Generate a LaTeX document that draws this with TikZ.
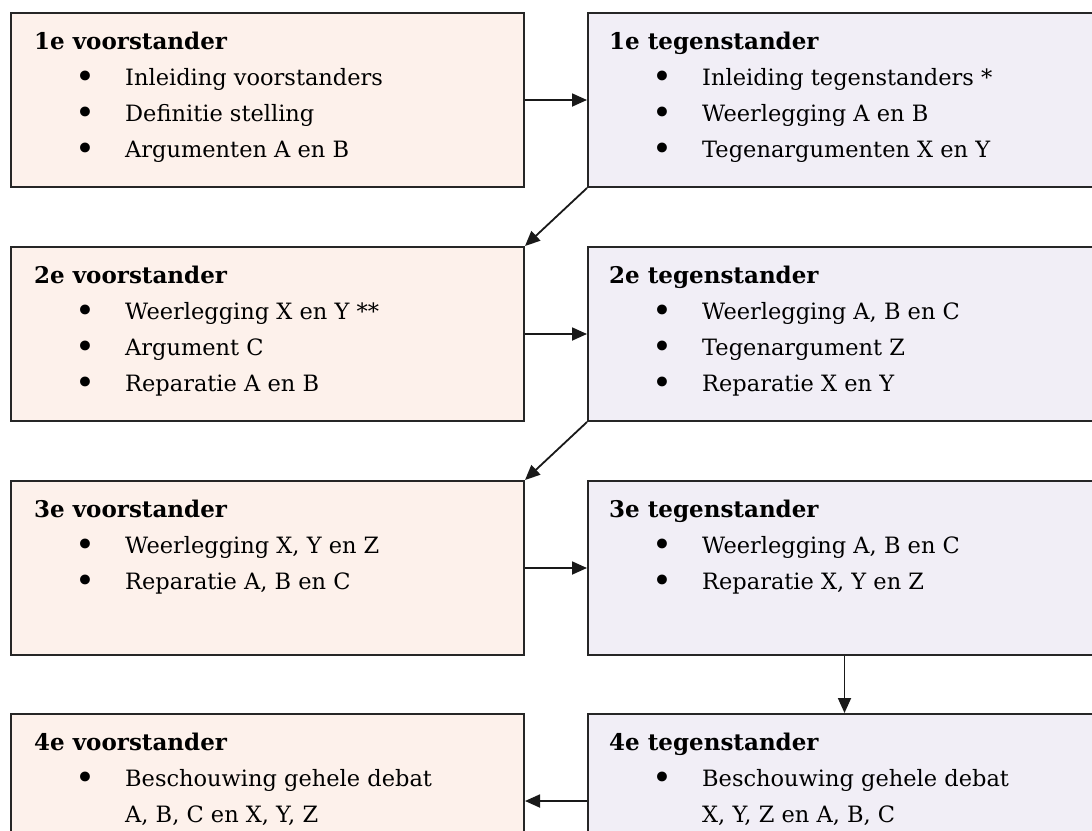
\documentclass[tikz,border=0pt]{standalone}
\usepackage{fontspec}
\setmainfont{DejaVu Serif}
\usetikzlibrary{arrows.meta}
\definecolor{proFill}{RGB}{253,241,235}
\definecolor{conFill}{RGB}{241,238,246}
\newcommand{\bigbul}{\raisebox{-3pt}{\scalebox{1.5}{\textbullet}}}
\newcommand{\bul}{\makebox[91pt]{\hspace{11pt}\bigbul}}
\newcommand{\rbul}{\makebox[93pt]{\hspace{13pt}\bigbul}}
\newcommand{\ttl}[1]{\multicolumn{2}{@{}l}{\fontsize{23}{36}\selectfont\bfseries #1}}
\begin{document}
\begin{tikzpicture}[x=1pt,y=-1pt,
  box/.style={draw=black!85, line width=2pt, minimum width=513pt, minimum height=174pt, inner sep=0pt, anchor=north west},
  pro/.style={box, fill=proFill},
  con/.style={box, fill=conFill},
  txt/.style={anchor=north west, inner sep=0pt, font=\fontsize{22.5}{36}\selectfont},
  conn/.style={line width=1.8pt, draw=black!90, -{Triangle[length=15pt,width=13pt]}}]
\useasboundingbox (0,0) rectangle (1092,830);
\clip (0,0) rectangle (1092,830);
\fill[white] (0,0) rectangle (1092,830);

\node[pro] (v1) at (10,12) {};
\node[con] (t1) at (587,12) {};
\node[pro] (v2) at (10,246) {};
\node[con] (t2) at (587,246) {};
\node[pro] (v3) at (10,480) {};
\node[con] (t3) at (587,480) {};
\node[pro] (v4) at (10,713) {};
\node[con] (t4) at (587,713) {};

\node[txt] (v1c) at ([shift={(24,12)}]v1.north west) {\begin{tabular}{@{}l@{}l@{}}
\ttl{1e voorstander}\\
\bul & Inleiding voorstanders\\
\bul & Definitie stelling\\
\bul & Argumenten A en B
\end{tabular}};
\node[txt] (t1c) at ([shift={(22,12)}]t1.north west) {\begin{tabular}{@{}l@{}l@{}}
\ttl{1e tegenstander}\\
\rbul & Inleiding tegenstanders *\\
\rbul & Weerlegging A en B\\
\rbul & Tegenargumenten X en Y
\end{tabular}};
\node[txt] (v2c) at ([shift={(24,12)}]v2.north west) {\begin{tabular}{@{}l@{}l@{}}
\ttl{2e voorstander}\\
\bul & Weerlegging X en Y **\\
\bul & Argument C\\
\bul & Reparatie A en B
\end{tabular}};
\node[txt] (t2c) at ([shift={(22,12)}]t2.north west) {\begin{tabular}{@{}l@{}l@{}}
\ttl{2e tegenstander}\\
\rbul & Weerlegging A, B en C\\
\rbul & Tegenargument Z\\
\rbul & Reparatie X en Y
\end{tabular}};
\node[txt] (v3c) at ([shift={(24,12)}]v3.north west) {\begin{tabular}{@{}l@{}l@{}}
\ttl{3e voorstander}\\
\bul & Weerlegging X, Y en Z\\
\bul & Reparatie A, B en C
\end{tabular}};
\node[txt] (t3c) at ([shift={(22,12)}]t3.north west) {\begin{tabular}{@{}l@{}l@{}}
\ttl{3e tegenstander}\\
\rbul & Weerlegging A, B en C\\
\rbul & Reparatie X, Y en Z
\end{tabular}};
\node[txt] (v4c) at ([shift={(24,12)}]v4.north west) {\begin{tabular}{@{}l@{}l@{}}
\ttl{4e voorstander}\\
\bul & Beschouwing gehele debat\\
 & A, B, C en X, Y, Z
\end{tabular}};
\node[txt] (t4c) at ([shift={(22,12)}]t4.north west) {\begin{tabular}{@{}l@{}l@{}}
\ttl{4e tegenstander}\\
\rbul & Beschouwing gehele debat\\
 & X, Y, Z en A, B, C
\end{tabular}};

\draw[conn] (v1.east) -- (t1.west);
\draw[conn] (t1.south west) -- (v2.north east);
\draw[conn] (v2.east) -- (t2.west);
\draw[conn] (t2.south west) -- (v3.north east);
\draw[conn] (v3.east) -- (t3.west);
\draw[conn] (t3.south) -- (t4.north);
\draw[conn] (t4.west) -- (v4.east);
\end{tikzpicture}
\end{document}
